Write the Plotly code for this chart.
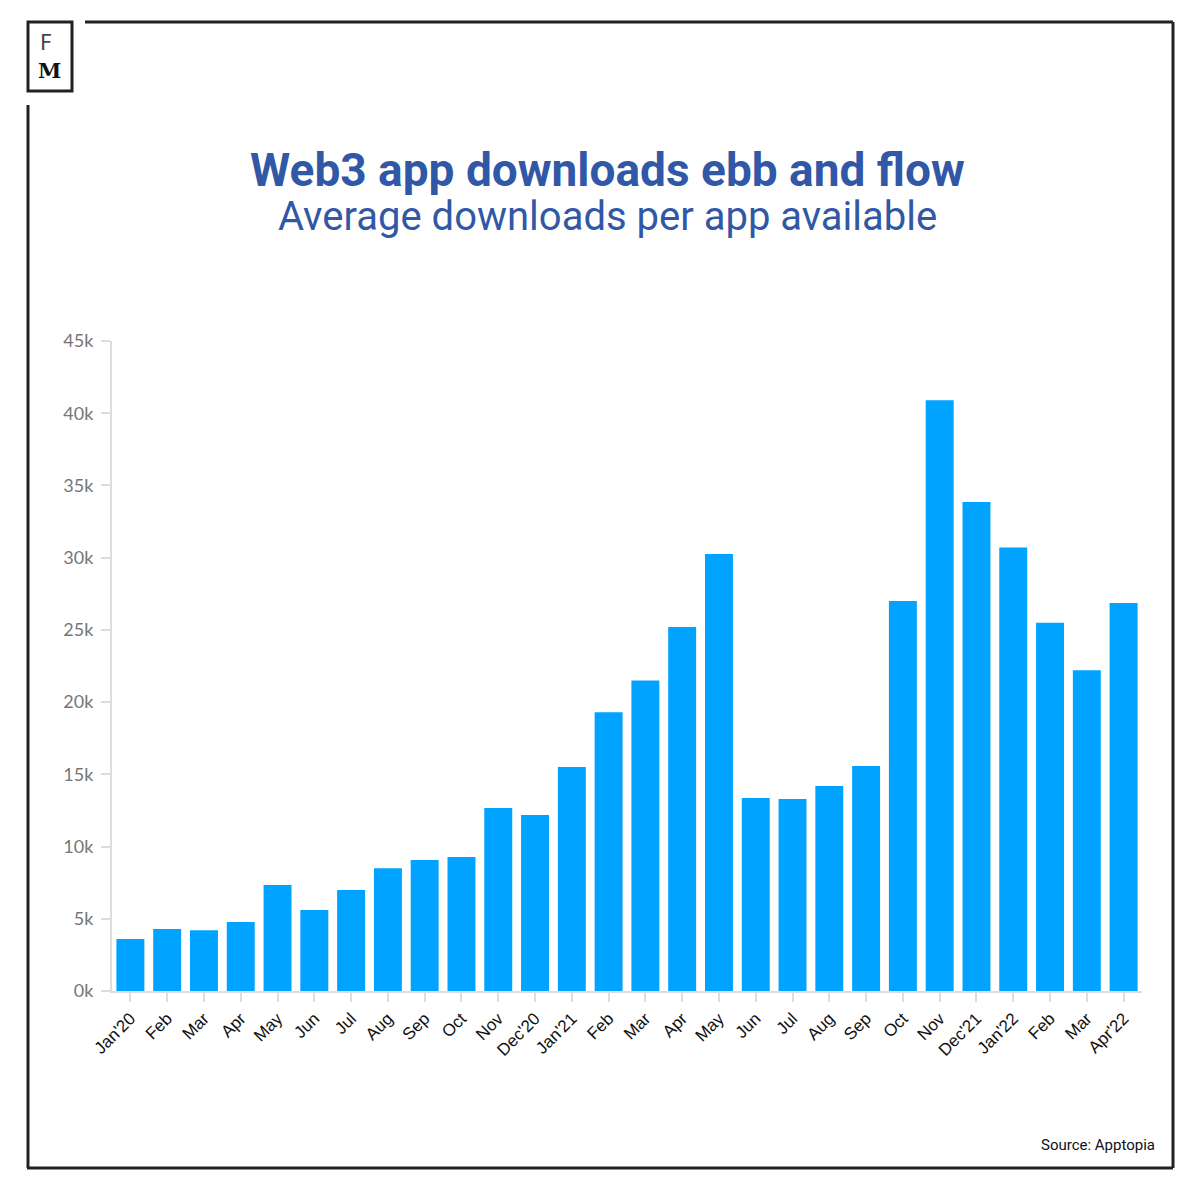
import plotly.graph_objects as go

months = ["Jan'20", "Feb", "Mar", "Apr", "May", "Jun", "Jul", "Aug", "Sep", "Oct", "Nov", "Dec'20",
          "Jan'21", "Feb", "Mar", "Apr", "May", "Jun", "Jul", "Aug", "Sep", "Oct", "Nov", "Dec'21",
          "Jan'22", "Feb", "Mar", "Apr'22"]
downloads = [3600, 4300, 4200, 4780, 7340, 5600, 7000, 8500, 9070, 9280, 12670, 12190,
             15500, 19300, 21500, 25200, 30250, 13360, 13300, 14200, 15580, 27000, 40900, 33850,
             30700, 25500, 22200, 26860]
y_ticks = [0, 5000, 10000, 15000, 20000, 25000, 30000, 35000, 40000, 45000]
y_tick_text = ["0k", "5k", "10k", "15k", "20k", "25k", "30k", "35k", "40k", "45k"]

W, H = 1200, 1200
OFF = 8  # page body margin
L, R, T, B = 112 - OFF, 1142 - OFF, 341 - OFF, 991 - OFF


def px(x):
    return (x - OFF - L) / (R - L)


def py(y):
    return (B - (y - OFF)) / (B - T)


fig = go.Figure()
fig.add_trace(go.Bar(
    x=list(range(len(months))), y=downloads,
    marker=dict(color="#00A3FF", line=dict(width=0)),
    hoverinfo="skip",
))

fig.update_layout(
    width=W, height=H,
    margin=dict(l=L, r=W - R, t=T, b=H - B, pad=0),
    paper_bgcolor="white", plot_bgcolor="white",
    bargap=0.24,
    showlegend=False,
    font=dict(family="Roboto, Arial, sans-serif"),
    xaxis=dict(
        range=[-0.5, len(months) - 0.5],
        tickvals=list(range(len(months))), ticktext=months,
        tickangle=-45,
        tickfont=dict(family="Liberation Sans, Arial, sans-serif", size=17, color="#111"),
        showgrid=False, zeroline=False,
        showline=True, linecolor="#dddddd", linewidth=2,
        ticks="outside", ticklen=9, tickwidth=2, tickcolor="#dddddd",
        fixedrange=True,
    ),
    yaxis=dict(
        range=[0, 45000],
        tickvals=y_ticks, ticktext=y_tick_text,
        tickfont=dict(family="Lato, Roboto, Arial, sans-serif", size=18, color="#767676"),
        showgrid=False, zeroline=False,
        showline=True, linecolor="#dddddd", linewidth=2,
        ticks="outside", ticklen=9, tickwidth=2, tickcolor="#dddddd",
        ticklabelstandoff=4,
        fixedrange=True,
    ),
)

frame_color = "#222222"
lw = 3
shapes = [
    dict(type="line", x0=px(85), x1=px(1173), y0=py(22), y1=py(22)),
    dict(type="line", x0=px(1173), x1=px(1173), y0=py(22), y1=py(1168)),
    dict(type="line", x0=px(27), x1=px(1173), y0=py(1168), y1=py(1168)),
    dict(type="line", x0=px(28), x1=px(28), y0=py(105), y1=py(1168)),
    dict(type="rect", x0=px(28), x1=px(72), y0=py(22), y1=py(91)),
]
for s in shapes:
    s.update(xref="paper", yref="paper", line=dict(color=frame_color, width=lw))
fig.update_layout(shapes=shapes)

annotations = [
    dict(text="<b>Web3 app downloads ebb and flow</b>", x=px(607), y=py(170),
         font=dict(family="Roboto, sans-serif", size=46, color="#3158A6")),
    dict(text="Average downloads per app available", x=px(607), y=py(217),
         font=dict(family="Roboto, sans-serif", size=40, color="#3158A6")),
    dict(text="F", x=px(46), y=py(43),
         font=dict(family="DejaVu Sans, sans-serif", size=21, color="#444444")),
    dict(text="<b>M</b>", x=px(49), y=py(70),
         font=dict(family="DejaVu Serif, serif", size=21, color="#111111")),
    dict(text="Source: Apptopia", x=px(1157), y=py(1145), xanchor="right",
         font=dict(family="Roboto, sans-serif", size=15, color="#111111")),
]
for a in annotations:
    a.setdefault("xanchor", "center")
    a.update(xref="paper", yref="paper", yanchor="middle", showarrow=False)
fig.update_layout(annotations=annotations)

fig.write_html("out.html")
